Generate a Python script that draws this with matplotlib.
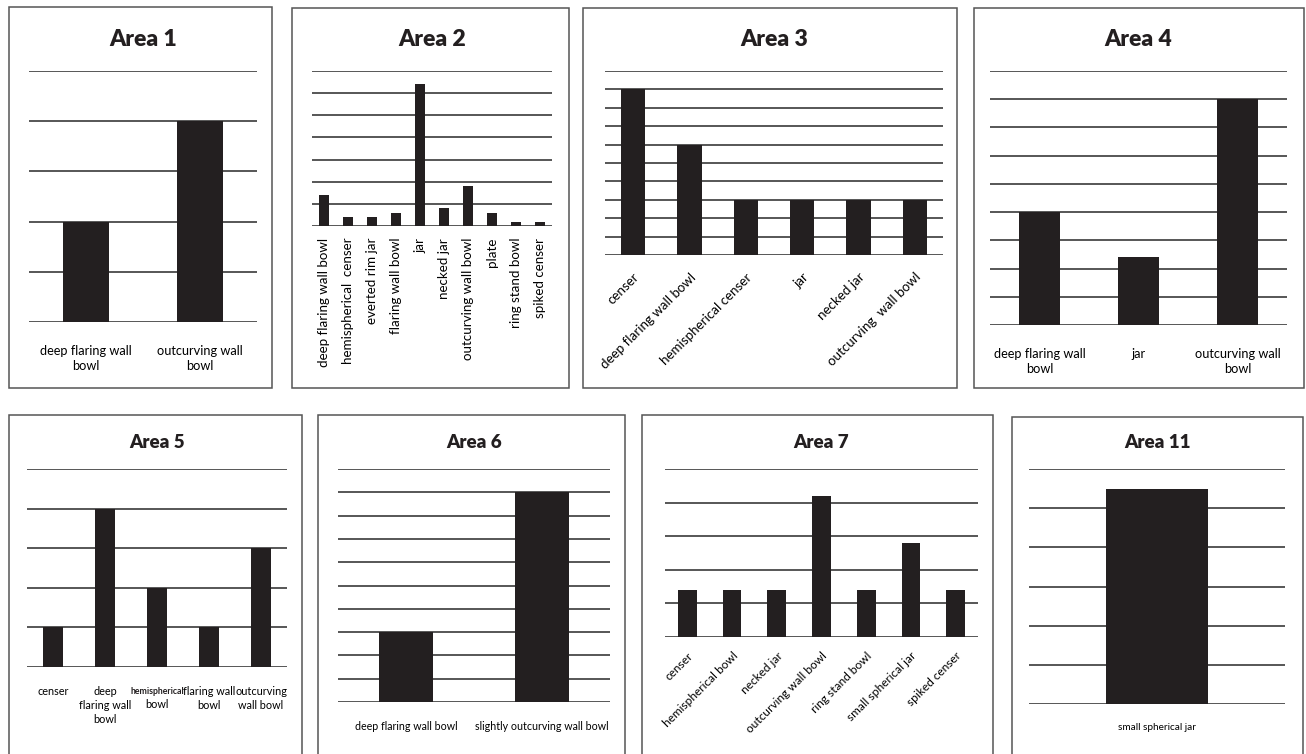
import matplotlib.pyplot as plt
from matplotlib.patches import Rectangle
import numpy as np

plt.rcParams['font.family'] = ['Lato', 'DejaVu Sans']

W, H = 1306, 754
BAR = '#231f20'
GRID = '#3a3a3a'

# ---- data (grid units) ----
area1_labels = ['deep flaring wall\nbowl', 'outcurving wall\nbowl']
area1_vals = [2, 4]

area2_labels = ['deep flaring wall bowl', 'hemispherical  censer', 'everted rim jar',
                'flaring wall bowl', 'jar', 'necked jar', 'outcurving wall bowl',
                'plate', 'ring stand bowl', 'spiked censer']
area2_vals = [7, 2, 2, 3, 32, 4, 9, 3, 1, 1]

area3_labels = ['censer', 'deep flaring wall bowl', 'hemispherical censer',
                'jar', 'necked jar', 'outcurving  wall bowl']
area3_vals = [9, 6, 3, 3, 3, 3]

area4_labels = ['deep flaring wall\nbowl', 'jar', 'outcurving wall\nbowl']
area4_vals = [4, 2.4, 8]

area5_labels = ['censer', 'deep\nflaring wall\nbowl', 'hemispherical\nbowl',
                'flaring wall\nbowl', 'outcurving\nwall bowl']
area5_vals = [1, 4, 2, 1, 3]

area6_labels = ['deep flaring wall bowl', 'slightly outcurving wall bowl']
area6_vals = [3, 9]

area7_labels = ['censer', 'hemispherical bowl', 'necked jar', 'outcurving wall bowl',
                'ring stand bowl', 'small spherical jar', 'spiked censer']
area7_vals = [1.4, 1.4, 1.4, 4.2, 1.4, 2.8, 1.4]

area11_labels = ['small spherical jar']
area11_vals = [5.5]


def px_rect(l, t, r, b):
    return [l / W, 1 - b / H, (r - l) / W, (b - t) / H]


def panel(fig, title, labels, vals, ymax, ax_px, box_px, title_y, title_size,
          rot=0, lab_size=8, pad=14, width=0.41):
    l, t, r, b = box_px
    fig.add_artist(Rectangle((l / W, 1 - b / H), (r - l) / W, (b - t) / H,
                             transform=fig.transFigure, fill=False,
                             edgecolor='#555555', lw=1.1))
    ax = fig.add_axes(px_rect(*ax_px))
    x = np.arange(len(vals))
    ax.bar(x, vals, width=width, color=BAR, zorder=3)
    ax.set_xlim(-0.5, len(vals) - 0.5)
    ax.set_ylim(0, ymax)
    ax.set_yticks(np.arange(0, ymax + 1))
    ax.yaxis.grid(True, color=GRID, lw=1.2, zorder=0)
    ax.tick_params(left=False, labelleft=False, bottom=False, pad=pad)
    for s in ax.spines.values():
        s.set_visible(False)
    ax.set_xticks(x)
    if rot == 90:
        ax.set_xticklabels(labels, rotation=90, fontsize=lab_size, va='top', ha='center')
    elif rot == 45:
        ax.set_xticklabels(labels, rotation=45, fontsize=lab_size, ha='right',
                           rotation_mode='anchor')
    else:
        ax.set_xticklabels(labels, fontsize=lab_size, linespacing=1.35)
    cx = (ax_px[0] + ax_px[2]) / 2
    fig.text(cx / W, 1 - title_y / H, title, ha='center', va='center',
             fontsize=title_size, fontweight='heavy', color='#231f20')
    return ax


fig = plt.figure(figsize=(W / 100, H / 100), dpi=100)

panel(fig, 'Area 1', area1_labels, area1_vals, 5, (29, 71, 257, 322), (9, 7, 272, 388),
      40, 16.5, lab_size=9.2, pad=13)
# Area 2 is counted in steps of 5
ax2 = panel(fig, 'Area 2', area2_labels, area2_vals, 35, (312, 71, 552, 226), (292, 8, 569, 388),
            40, 16.5, rot=90, lab_size=9.6, pad=5, width=0.45)
ax2.set_yticks(np.arange(0, 36, 5))
panel(fig, 'Area 3', area3_labels, area3_vals, 10, (605, 71, 943, 255), (583, 8, 957, 388),
      40, 16.5, rot=45, lab_size=9.6, pad=8, width=0.43)
panel(fig, 'Area 4', area4_labels, area4_vals, 9, (990, 71, 1287, 325), (974, 8, 1304, 388),
      40, 16.5, lab_size=9.2, pad=13)

ax5 = panel(fig, 'Area 5', area5_labels, area5_vals, 5, (27, 469, 287, 667), (9, 415, 302, 760),
            443, 13.5, lab_size=7.8, pad=10, width=0.4)
# in the original the word "hemispherical" is set smaller than the rest of its label
first, rest = area5_labels[2].split('\n', 1)
ax5.set_xticklabels([area5_labels[0], area5_labels[1], '',
                     area5_labels[3], area5_labels[4]], fontsize=7.8, linespacing=1.35)
ax5.annotate(first, xy=(2, 0), xycoords=('data', 'axes fraction'),
             xytext=(0, -19.3), textcoords='offset points', ha='center', va='baseline',
             fontsize=6.3, fontweight='bold', color='#231f20')
ax5.annotate(rest, xy=(2, 0), xycoords=('data', 'axes fraction'),
             xytext=(0, -29.6), textcoords='offset points', ha='center', va='baseline',
             fontsize=7.8)
panel(fig, 'Area 6', area6_labels, area6_vals, 10, (338, 469, 610, 702), (318, 415, 625, 760),
      443, 13.5, lab_size=7.7, pad=10, width=0.4)
panel(fig, 'Area 7', area7_labels, area7_vals, 5, (665, 469, 978, 637), (642, 415, 993, 760),
      443, 13.5, rot=45, lab_size=8.6, pad=6, width=0.42)
panel(fig, 'Area 11', area11_labels, area11_vals, 6, (1029, 469, 1285, 704), (1012, 417, 1303, 760),
      443, 13.5, lab_size=7.2, pad=10, width=0.4)

fig.savefig('out.png', dpi=100, facecolor='white')
